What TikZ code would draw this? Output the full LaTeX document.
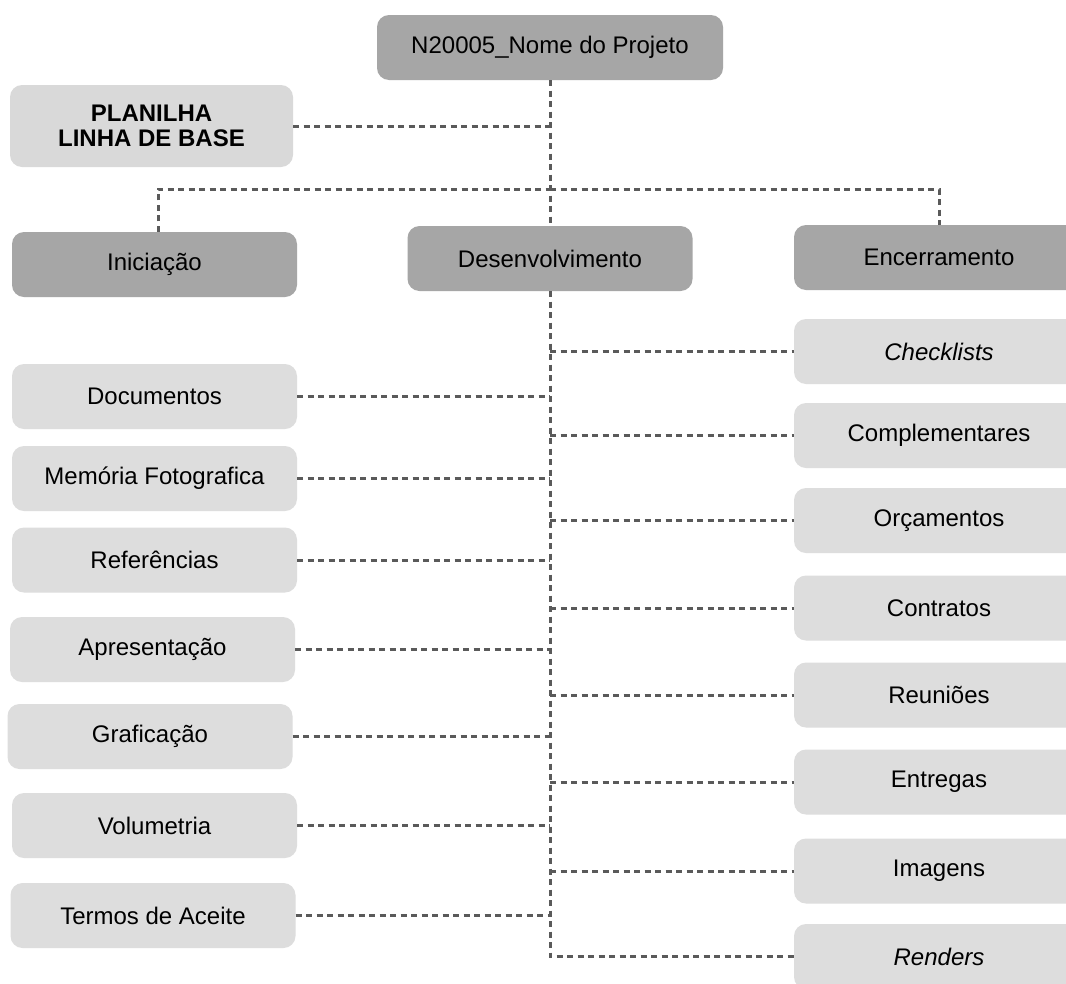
\documentclass[tikz,border=0pt]{standalone}
\usepackage{fontspec}
\setmainfont{Liberation Sans}
\definecolor{darkbox}{HTML}{A6A6A6}
\definecolor{lightbox}{HTML}{DDDDDD}
\definecolor{planbox}{HTML}{D9D9D9}
\definecolor{linecol}{HTML}{5A5A5A}
\tikzset{
  phase/.style={fill=darkbox, rounded corners=12pt, minimum width=285pt, minimum height=65pt, inner sep=0pt, font=\fontsize{24}{28}\selectfont},
  item/.style={fill=lightbox, rounded corners=12pt, minimum width=285pt, minimum height=65pt, inner sep=0pt, font=\fontsize{24}{28}\selectfont},
  link/.style={draw=linecol, line width=3pt, dash pattern=on 6pt off 4.5pt}
}
\begin{document}
\begin{tikzpicture}[x=1pt,y=-1pt]
\clip (0,0) rectangle (1066,983);
\fill[white] (0,0) rectangle (1066,983);
% top
\node[phase, minimum width=346pt] (proj) at (550,47.5) {N20005\_Nome do Projeto};
\node[item, fill=planbox, minimum width=283pt, minimum height=82pt, align=center, font=\fontsize{24}{25}\selectfont\bfseries] (plan) at (151.5,126) {PLANILHA\\LINHA DE BASE};
% phases
\node[phase] (ini) at (154.5,264.5) {Iniciação};
\node[phase] (des) at (550,258.5) {Desenvolvimento};
\node[phase, minimum width=290pt] (enc) at (939,257.5) {Encerramento};
% left items
\node[item] (doc) at (154.5,396.5) {Documentos};
\node[item] (mem) at (154.5,478.5) {Memória Fotografica};
\node[item] (ref) at (154.5,560) {Referências};
\node[item] (apr) at (152.5,649.5) {Apresentação};
\node[item] (gra) at (150,736.5) {Graficação};
\node[item] (vol) at (154.5,825.5) {Volumetria};
\node[item] (ter) at (153,915.5) {Termos de Aceite};
% right items
\node[item, minimum width=290pt] (chk) at (939,351.5) {\itshape Checklists};
\node[item, minimum width=290pt] (com) at (939,435.5) {Complementares};
\node[item, minimum width=290pt] (orc) at (939,520.5) {Orçamentos};
\node[item, minimum width=290pt] (con) at (939,608) {Contratos};
\node[item, minimum width=290pt] (reu) at (939,695) {Reuniões};
\node[item, minimum width=290pt] (ent) at (939,782) {Entregas};
\node[item, minimum width=290pt] (ima) at (939,871) {Imagens};
\node[item, minimum width=290pt] (ren) at (939,956.5) {\itshape Renders};
% connectors top
\coordinate (bar) at (550,189);
\draw[link] (proj.south) -- (des.north);
\draw[link] (plan.east) -- (plan.east -| proj.south);
\draw[link] ([xshift=3.5pt]ini.north) |- (bar);
\draw[link] (bar) -| (enc.north);
% trunk below
\draw[link] (des.south) |- (ren.west);
\foreach \n in {doc,mem,ref,apr,gra,vol,ter}{
  \draw[link] (\n.east) -- (\n.east -| des.south);
}
\foreach \n in {chk,com,orc,con,reu,ent,ima}{
  \draw[link] (des.south |- \n.west) -- (\n.west);
}
\end{tikzpicture}
\end{document}
